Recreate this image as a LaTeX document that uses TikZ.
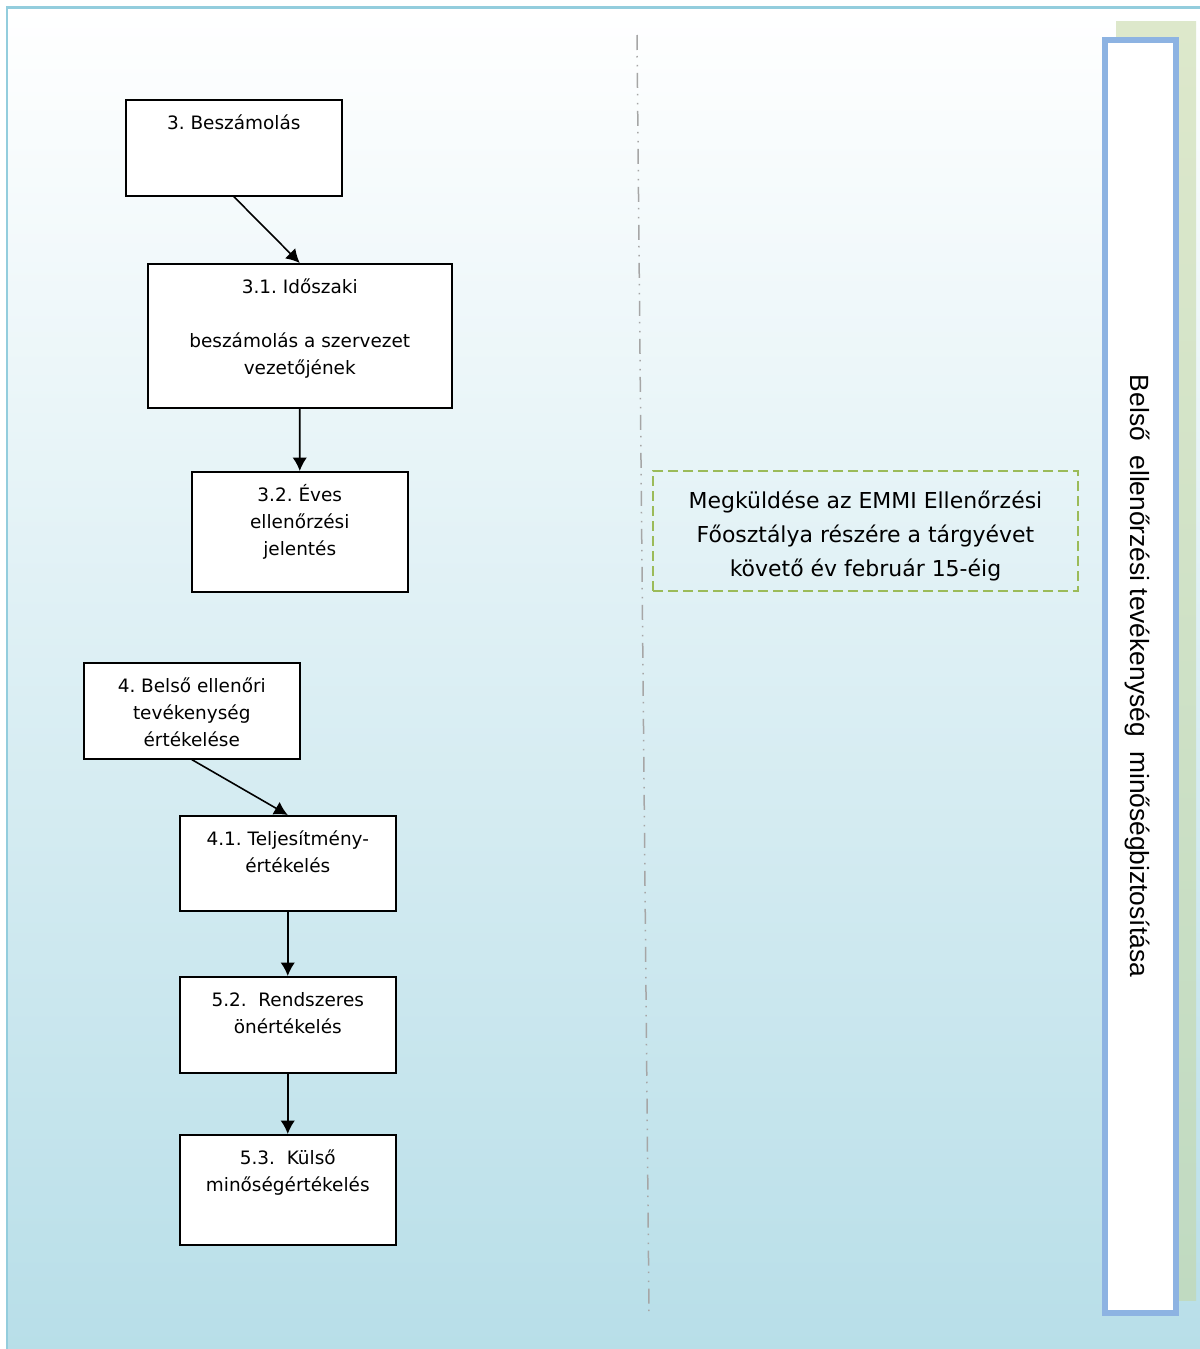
\documentclass[tikz,border=0pt]{standalone}
\usepackage{fontspec}
\setmainfont{DejaVu Sans}
\newfontfamily\arialfont{Liberation Sans}
\usepackage{xcolor}
\usetikzlibrary{arrows.meta}

\definecolor{frameblue}{RGB}{147,205,221}
\definecolor{bgblue}{RGB}{183,222,232}
\definecolor{barblue}{RGB}{141,179,226}
\definecolor{bargreen}{RGB}{221,232,203}
\definecolor{bargreenb}{RGB}{192,218,193}
\definecolor{dashgreen}{RGB}{155,187,89}
\definecolor{sepgray}{RGB}{166,166,166}

% box text: width, height, lines
\newcommand{\boxtxt}[3]{\parbox[c][#2][t]{#1}{\centering\vspace*{6pt}\strut #3}}

\frenchspacing

\begin{document}
\begin{tikzpicture}[x=0.02cm, y=-0.02cm,
	box/.style={draw, line width=0.9pt, fill=white, inner sep=0pt, anchor=north west,
		font=\fontsize{10.5}{15.35}\selectfont},
	flow/.style={line width=0.9pt, -{Latex[length=2.7mm,width=2.9mm]}}]
			\useasboundingbox (0,0) rectangle (1200,1349);
			
			% Background and frame
			\shade[top color=white, bottom color=bgblue] (7,7) rectangle (1215,1365);
			\draw[frameblue, line width=0.06cm] (7,1365) -- (7,7) -- (1215,7);
			
			% Side bar
			\shade[top color=bargreen, bottom color=bargreenb] (1116,21) rectangle (1196,1300);
			\draw[barblue, line width=0.12cm, fill=white] (1105,40) rectangle (1176,1313);
			\node[rotate=-90, font=\arialfont\fontsize{15}{17}\selectfont] (title) at (1137,676)
				{Belső\ \ ellenőrzési tevékenység\ \ minőségbiztosítása};
			
			% Separator
			\draw[sepgray, line width=0.03cm,
				dash pattern=on 0.3cm off 0.12cm on 0.03cm off 0.15cm on 0.03cm off 0.13cm]
				(637,35) -- (649,1312);
			
			% Boxes
			\node[box] (b3) at (125,99) {\boxtxt{4.32cm}{1.92cm}{3. Beszámolás}};
			\node[box] (b31) at (147,263) {\boxtxt{6.08cm}{2.88cm}{3.1. Időszaki\\[\baselineskip]beszámolás a szervezet\\vezetőjének}};
			\node[box] (b32) at (191,471) {\boxtxt{4.32cm}{2.4cm}{3.2. Éves\\ellenőrzési\\jelentés}};
			\node[box] (b4) at (83,662) {\boxtxt{4.32cm}{1.92cm}{4. Belső ellenőri\\tevékenység\\értékelése}};
			\node[box] (b41) at (179,815) {\boxtxt{4.32cm}{1.9cm}{4.1. Teljesítmény-\\értékelés}};
			\node[box] (b52) at (179,976) {\boxtxt{4.32cm}{1.92cm}{5.2.\ \ Rendszeres\\önértékelés}};
			\node[box] (b53) at (179,1134) {\boxtxt{4.32cm}{2.2cm}{5.3.\ \ Külső\\minőségértékelés}};
			
			\node[draw=dashgreen, line width=0.045cm, dash pattern=on 0.2cm off 0.1cm,
				minimum width=8.5cm, minimum height=2.4cm, inner sep=0pt, align=center,
				font=\fontsize{12.5}{19.3}\selectfont] (send) at (865.5,531)
				{\\[-4pt]Megküldése az EMMI Ellenőrzési\\Főosztálya részére a tárgyévet\\követő év február 15-éig};
			
			% Arrows
			\draw[flow] (b3.south) -- (b31.north);
			\draw[flow] (b31.south) -- (b32.north);
			\draw[flow] (b4.south) -- (b41.north);
			\draw[flow] (b41.south) -- (b52.north);
			\draw[flow] (b52.south) -- (b53.north);
		\end{tikzpicture}
\end{document}
